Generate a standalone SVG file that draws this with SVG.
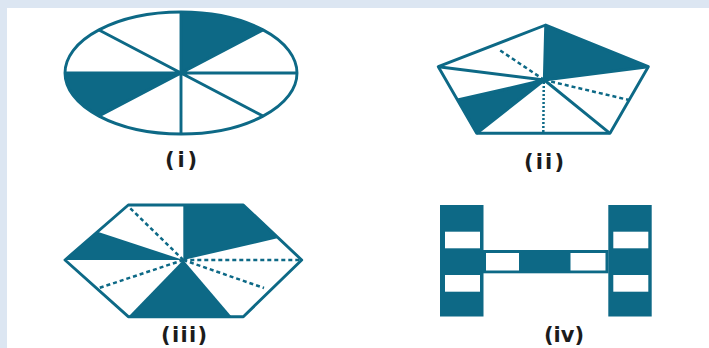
<svg xmlns="http://www.w3.org/2000/svg" width="709" height="348" viewBox="0 0 709 348">
<style>
.ln{stroke:#0d6986;stroke-width:2.9;fill:none;stroke-linejoin:round}
.fl{fill:#0d6986}
.ds{stroke:#0d6986;stroke-width:2.5;fill:none;stroke-dasharray:4 3}
.dt{stroke:#0d6986;stroke-width:2.5;fill:none;stroke-dasharray:2 2}
.lb{font-family:"DejaVu Sans",sans-serif;font-weight:bold;font-size:21px;fill:#1c1c1c;text-anchor:middle}
</style>
<rect width="709" height="348" fill="#ffffff"/>
<rect x="0" y="0" width="709" height="8" fill="#dce6f2"/>
<rect x="0" y="0" width="7" height="348" fill="#dce6f2"/>

<g id="fig-i">
<path class="fl" d="M181,73 L181,12 A116,61 0 0,1 263,30 Z"/>
<path class="fl" d="M181,73 L65,73 A116,61 0 0,0 99,116 Z"/>
<ellipse class="ln" cx="181" cy="73" rx="116" ry="61"/>
<path class="ln" d="M181,12 V134 M65,73 H297 M99,30 L263,116 M263,30 L99,116"/>
<text class="lb" x="181" y="167" textLength="32" lengthAdjust="spacing">(i)</text>
</g>

<g id="fig-ii">
<polygon class="fl" points="545.7,25 648.3,66.7 544.3,80"/>
<polygon class="fl" points="457.5,100 476.7,133.3 544.3,80"/>
<polygon class="ln" points="545.7,25 648.3,66.7 610,133.3 476.7,133.3 438.3,66.7"/>
<path class="ln" d="M544.3,80 L545.7,25 M544.3,80 L648.3,66.7 M544.3,80 L610,133.3 M544.3,80 L476.7,133.3 M544.3,80 L457.5,100 M544.3,80 L438.3,66.7"/>
<path class="ds" d="M544.3,80 L498,49 M544.3,80 L629,100"/>
<path class="dt" d="M543.8,82 L543.3,133"/>
<text class="lb" x="544" y="169" textLength="40" lengthAdjust="spacing">(ii)</text>
</g>

<g id="fig-iii">
<polygon class="fl" points="183.3,205 243.3,205 278.3,238 183.3,260"/>
<polygon class="fl" points="65,260 98.3,232 183.3,260"/>
<polygon class="fl" points="128.3,316.7 231.7,316.7 183.3,260"/>
<polygon class="ln" points="128.3,205 243.3,205 301.7,260 243.3,316.7 128.3,316.7 65,260"/>
<path class="ds" d="M183.3,260 L130,208 M183.3,260 L300,260 M183.3,260 L264,288 M183.3,260 L99,288"/>
<text class="lb" x="184" y="342" textLength="46" lengthAdjust="spacing">(iii)</text>
</g>

<g id="fig-iv">
<rect class="fl" x="440" y="205" width="43.5" height="111.5"/>
<rect x="445" y="231.7" width="35" height="16.6" fill="#fff"/>
<rect x="445" y="275" width="35" height="16.7" fill="#fff"/>
<rect class="fl" x="608.3" y="205" width="43.4" height="111.5"/>
<rect x="613.3" y="231.7" width="35" height="16.6" fill="#fff"/>
<rect x="613.3" y="275" width="35" height="16.7" fill="#fff"/>
<rect class="fl" x="483" y="250" width="125.5" height="23.3"/>
<rect x="486" y="253" width="33" height="17.5" fill="#fff"/>
<rect x="570.5" y="253" width="35" height="17.5" fill="#fff"/>
<text class="lb" x="564" y="342">(iv)</text>
</g>
</svg>
